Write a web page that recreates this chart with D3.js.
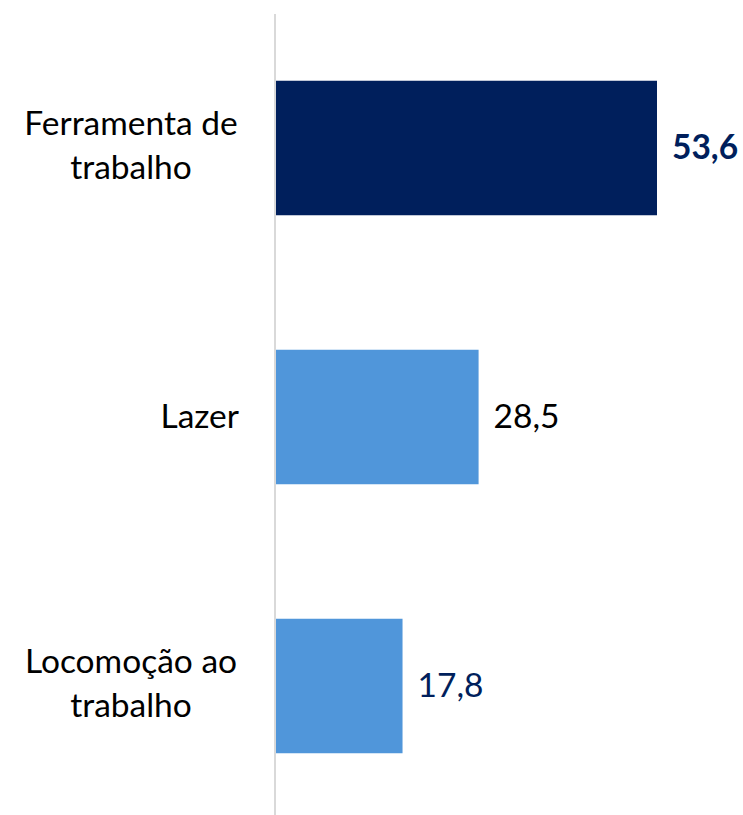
<!DOCTYPE html>
<html>
<head>
<meta charset="utf-8">
<script src="https://cdn.jsdelivr.net/npm/d3@7"></script>
<style>
html,body{margin:0;padding:0;background:#fff;}
svg{display:block;}
text{font-family:Lato,"Open Sans",sans-serif;}
</style>
</head>
<body>
<svg id="chart" width="743" height="815"></svg>
<script>
const categories = [["Ferramenta de","trabalho"],["Lazer"],["Locomoção ao","trabalho"]];
const values = [53.6, 28.5, 17.8];
const valueLabels = ["53,6","28,5","17,8"];
const barColors = ["#001F5C","#5096DA","#5096DA"];
const labelColors = ["#001F5C","#000000","#001F5C"];
const labelWeights = ["bold","normal","normal"];

const svg = d3.select("#chart");
const x0 = 276;
const x = d3.scaleLinear().domain([0, 53.6]).range([x0, 657]);
const y = d3.scaleBand().domain(d3.range(values.length)).range([13.5, 820.5]).paddingInner(0.5).paddingOuter(0.25);

svg.selectAll("rect.bar").data(values).join("rect")
  .attr("class","bar")
  .attr("x", x(0))
  .attr("y", (d,i)=>y(i))
  .attr("width", d=>x(d)-x(0))
  .attr("height", y.bandwidth())
  .attr("fill", (d,i)=>barColors[i]);

svg.append("line")
  .attr("x1", x0-1).attr("x2", x0-1)
  .attr("y1", 14).attr("y2", 815)
  .attr("stroke","#d9d9d9").attr("stroke-width",2);

const fs = 33.5;
svg.selectAll("text.val").data(values).join("text")
  .attr("class","val")
  .attr("x", d=>x(d)+15)
  .attr("y", (d,i)=>y(i)+y.bandwidth()/2)
  .attr("dy","0.33em")
  .attr("font-size", fs)
  .attr("font-weight",(d,i)=>labelWeights[i])
  .attr("fill",(d,i)=>labelColors[i])
  .text((d,i)=>valueLabels[i]);

const lineH = 44;
const labelCenterX = 131;
categories.forEach((lines,i)=>{
  const cy = y(i)+y.bandwidth()/2 - (lines.length>1 ? 2.5 : 0);
  const t = svg.append("text")
    .attr("font-size", fs)
    .attr("fill","#000")
    .attr("text-anchor", lines.length>1 ? "middle" : "end");
  lines.forEach((ln,j)=>{
    t.append("tspan")
      .attr("x", lines.length>1 ? labelCenterX : 239)
      .attr("y", cy + (j-(lines.length-1)/2)*lineH)
      .attr("dy","0.33em")
      .text(ln);
  });
});
</script>
</body>
</html>
